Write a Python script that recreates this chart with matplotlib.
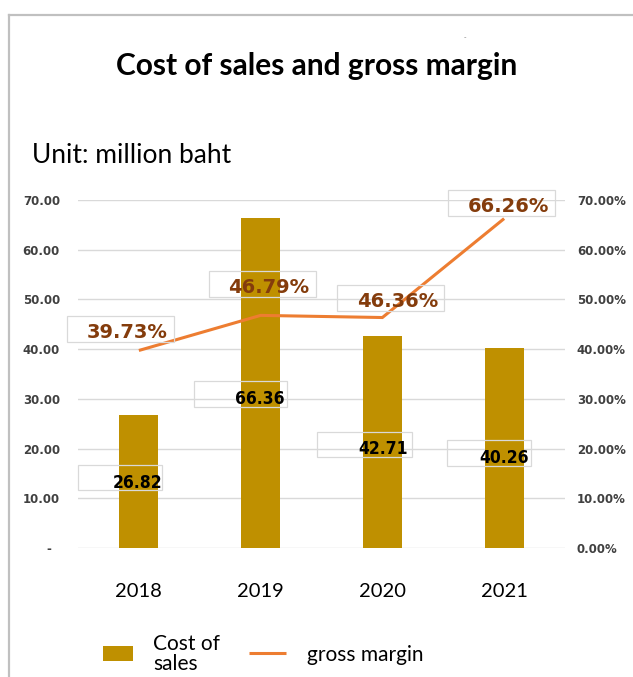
import matplotlib
matplotlib.use("Agg")
import matplotlib.pyplot as plt
import matplotlib.transforms as mtransforms
from matplotlib.patches import Rectangle
from matplotlib.lines import Line2D
from matplotlib import font_manager as fm
import numpy as np

# ---------------- data ----------------
years = ["2018", "2019", "2020", "2021"]
cost_of_sales = [26.82, 66.36, 42.71, 40.26]        # million baht
gross_margin = [39.73, 46.79, 46.36, 66.26]         # percent
left_ticks = [0, 10, 20, 30, 40, 50, 60, 70]
left_tick_labels = ["-  ", "10.00", "20.00", "30.00", "40.00", "50.00", "60.00", "70.00"]
right_ticks = [0.0, 0.1, 0.2, 0.3, 0.4, 0.5, 0.6, 0.7]
right_tick_labels = ["0.00%", "10.00%", "20.00%", "30.00%", "40.00%", "50.00%", "60.00%", "70.00%"]
title = "Cost of sales and gross margin"
subtitle = "Unit: million baht"
legend_labels = ["Cost of\nsales", "gross margin"]

# ---------------- layout / style ----------------
W, H = 633, 677
BAR_COLOR = "#BF9000"
LINE_COLOR = "#ED7D31"
PCT_COLOR = "#843C0C"
GRID_COLOR = "#D9D9D9"
BOX_COLOR = "#D9D9D9"

# label offsets in pixels (text centre x / baseline y relative to anchor)
pct_label_dx = [-12, 8, 15, 4]
pct_label_dy = [12.5, 22.5, 10.5, 6.5]
pct_box = (-60, 47, -4, 22)  # left, right, bottom, top around text centre/baseline
bar_label_dx = [-1, -1, 1, 0]
bar_label_dy = [-6.7, -21, -12.2, -15.1]
bar_boxes = [(-60, 24, -2, 23), (-66, 27, -3, 23), (-66.5, 28.5, -3, 22), (-57, 27, -3, 23)]


def narrow_bold_font():
    """Pick a condensed bold face if one is installed."""
    cands = [
        dict(family="Liberation Sans Narrow", weight="bold"),
        dict(family="DejaVu Sans", weight="bold", stretch="condensed"),
        dict(family="Roboto Condensed", weight="bold"),
    ]
    for c in cands:
        try:
            fp = fm.FontProperties(**c)
            path = fm.findfont(fp, fallback_to_default=False)
            low = path.lower()
            if "narrow" in low or "condensed" in low:
                return fm.FontProperties(fname=path, size=12.5), True
        except Exception:
            pass
    return fm.FontProperties(family="Roboto", weight="bold", size=11.5), False


bar_font, _ = narrow_bold_font()

fig = plt.figure(figsize=(W / 100, H / 100), dpi=100)
fig.patch.set_facecolor("white")


def fx(x):
    return x / W


def fy(y):
    return 1 - y / H


ax = fig.add_axes([fx(78), fy(548), (565 - 78) / W, (548 - 200) / H])
ax2 = ax.twinx()

x = np.arange(len(years))
ax.bar(x, cost_of_sales, width=0.32, color=BAR_COLOR, zorder=2)
ax2.plot(x, np.array(gross_margin) / 100, color=LINE_COLOR, lw=2.2,
         solid_capstyle="butt", solid_joinstyle="miter", zorder=3)

ax.set_xlim(-0.5, len(years) - 0.5)
ax.set_ylim(0, 70)
ax2.set_ylim(0, 0.70)

ax.set_axisbelow(True)
ax.yaxis.grid(True, color=GRID_COLOR, lw=1.0)
ax.xaxis.grid(False)
for a in (ax, ax2):
    for s in a.spines.values():
        s.set_visible(False)

ax.set_yticks(left_ticks)
ax.set_yticklabels(left_tick_labels, fontweight="bold", family="DejaVu Sans",
                   fontsize=8.5, color="#404040")
ax2.set_yticks(right_ticks)
ax2.set_yticklabels(right_tick_labels, fontweight="bold", family="DejaVu Sans",
                    fontsize=8.5, color="#404040")
ax.tick_params(axis="y", length=0, pad=13)
ax2.tick_params(axis="y", length=0, pad=8.5)

ax.set_xticks(x)
ax.set_xticklabels(years, family="Lato", fontsize=14.5, color="black")
ax.tick_params(axis="x", length=0, pad=25.5)


def boxed(axis, xv, yv, s, dx, dy, box, zorder=6, **kw):
    base = mtransforms.ScaledTranslation(xv, yv, axis.transData)
    axis.annotate(s, xy=(xv, yv), xytext=(dx, dy), textcoords="offset pixels",
                  ha="center", va="baseline", annotation_clip=False,
                  zorder=zorder, **kw)
    l, r, b, t = box
    rect = Rectangle((dx + l, dy + b), r - l, t - b,
                     transform=mtransforms.Affine2D() + base,
                     fill=False, edgecolor=BOX_COLOR, lw=0.9, clip_on=False,
                     zorder=zorder)
    axis.add_artist(rect)


for i, v in enumerate(gross_margin):
    boxed(ax2, x[i], v / 100, f"{v:.2f}%", pct_label_dx[i], pct_label_dy[i], pct_box,
          color=PCT_COLOR, fontsize=14, fontweight="bold", family="DejaVu Sans")

for i, v in enumerate(cost_of_sales):
    boxed(ax, x[i], v / 2, f"{v:.2f}", bar_label_dx[i], bar_label_dy[i], bar_boxes[i],
          color="black", fontproperties=bar_font)

# titles
fig.text(fx(317), fy(75), title, ha="center", va="baseline", fontsize=21.5,
         fontweight="bold", family="Lato", color="black")
fig.text(fx(32), fy(163), subtitle, ha="left", va="baseline", fontsize=19,
         family="Lato", color="black")
fig.text(fx(465), fy(37), "-", ha="center", va="center", fontsize=5, color="#808080")

# frame of the chart box
fig.add_artist(Line2D([fx(9), fx(9)], [fy(15), 0], transform=fig.transFigure,
                      color="#C0C0C0", lw=1.6))
fig.add_artist(Line2D([fx(9), 1], [fy(15), fy(15)], transform=fig.transFigure,
                      color="#C0C0C0", lw=1.6))

# legend (drawn manually to match positions)
fig.add_artist(Rectangle((fx(103), fy(661)), 30 / W, 15 / H, transform=fig.transFigure,
                         facecolor=BAR_COLOR, edgecolor="none"))
fig.text(fx(153), fy(670.5), legend_labels[0], ha="left", va="baseline", fontsize=15,
         family="Lato", color="black", linespacing=1.05)
fig.add_artist(Line2D([fx(249), fx(286)], [fy(653), fy(653)], transform=fig.transFigure,
                      color=LINE_COLOR, lw=2.2, solid_capstyle="butt"))
fig.text(fx(307), fy(661), legend_labels[1], ha="left", va="baseline", fontsize=15,
         family="Lato", color="black")

fig.savefig("out.png", dpi=100, facecolor="white")
